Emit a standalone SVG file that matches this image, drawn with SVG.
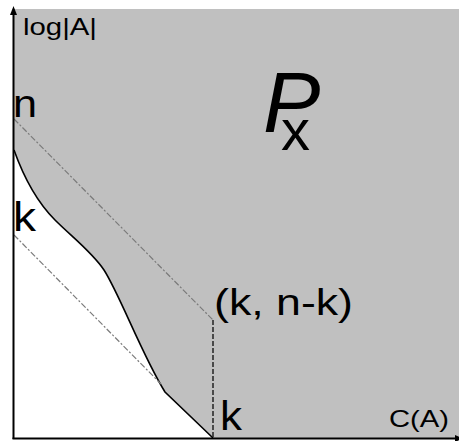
<svg xmlns="http://www.w3.org/2000/svg" width="459" height="441" viewBox="0 0 459 441">
  <defs>
    <style>
      .lbl { font-family: "Liberation Sans", Arial, sans-serif; fill: #000; }
      .axis { stroke: #000; stroke-width: 2; fill: none; }
      .dashdot { stroke: #7a7a7a; stroke-width: 1.2; fill: none; stroke-dasharray: 6 2 2 2; }
      .dash { stroke: #222; stroke-width: 1.5; fill: none; stroke-dasharray: 5 2; }
    </style>
  </defs>
  <rect x="0" y="0" width="459" height="441" fill="#ffffff"/>
  <g id="region">
    <rect x="14" y="9" width="445" height="429" fill="#c0c0c0"/>
    <path id="white-area" d="M14,150 C24,178 38,203 55,220 C72,237 92,252 104,270 C120,295 142,355 165,392 L213,438 L14,438 Z" fill="#ffffff"/>
    <path id="curve" d="M14,150 C24,178 38,203 55,220 C72,237 92,252 104,270 C120,295 142,355 165,392 L213,438" fill="none" stroke="#000" stroke-width="1.6"/>
  </g>
  <g id="connectors">
    <line class="dashdot" x1="14" y1="119" x2="213" y2="320"/>
    <line class="dashdot" x1="14" y1="235" x2="161" y2="384"/>
    <line class="dash" x1="213" y1="320" x2="213" y2="438"/>
  </g>
  <g id="axes">
    <line class="axis" x1="13.5" y1="439" x2="13.5" y2="13"/>
    <polygon points="13.5,6 10,15 17,15" fill="#000"/>
    <line class="axis" x1="12.5" y1="438.5" x2="457" y2="438.5"/>
    <polygon points="463,438.5 455,435 455,442" fill="#000"/>
  </g>
  <g id="labels">
    <text class="lbl" x="23" y="35" font-size="24" textLength="74" lengthAdjust="spacingAndGlyphs">log|A|</text>
    <text class="lbl" x="13" y="117" font-size="38" textLength="24" lengthAdjust="spacingAndGlyphs">n</text>
    <text class="lbl" x="13" y="231" font-size="40" textLength="23" lengthAdjust="spacingAndGlyphs">k</text>
    <text class="lbl" x="220" y="430" font-size="40" textLength="22" lengthAdjust="spacingAndGlyphs">k</text>
    <text class="lbl" x="214" y="315" font-size="37" textLength="139" lengthAdjust="spacingAndGlyphs">(k, n-k)</text>
    <text class="lbl" x="389" y="427" font-size="24" textLength="60" lengthAdjust="spacingAndGlyphs">C(A)</text>
    <text id="px" class="lbl" x="263" y="132" font-size="86"><tspan font-style="italic">P</tspan><tspan x="281" y="150" font-size="58">x</tspan></text>
  </g>
</svg>
